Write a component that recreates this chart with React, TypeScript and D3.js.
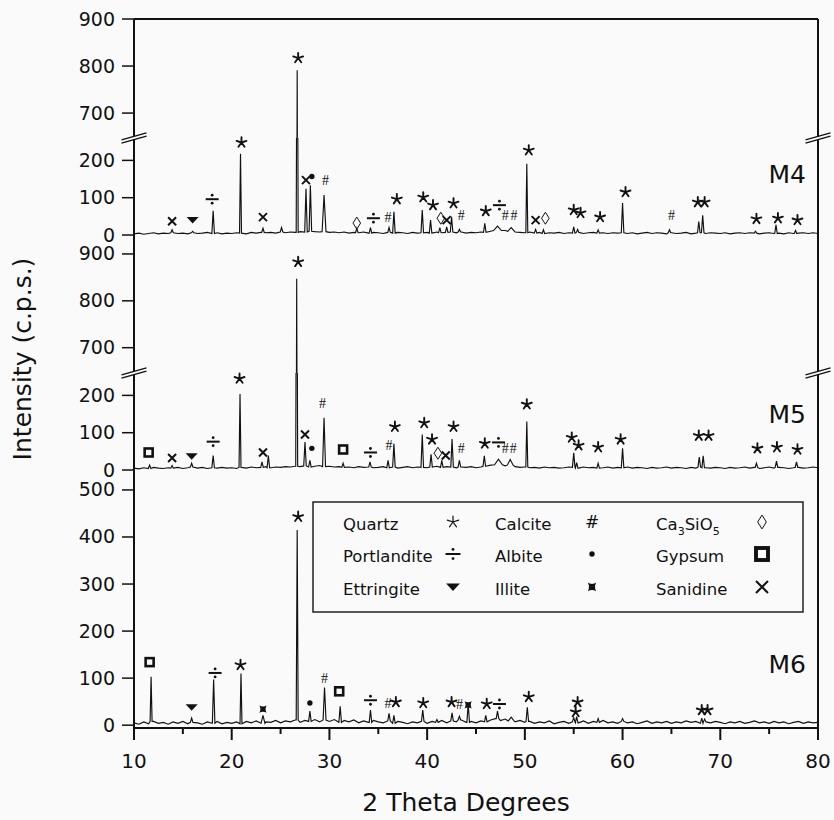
import * as d3 from 'd3';

const W = 834;
const H = 820;

// background samples every 0.5 deg from 10 to 80
const gridTheta = d3.range(0, 141).map(i => 10 + i * 0.5);

const baseM4 = [
  3, 5, 2, 4, 6, 3, 5, 4, 6, 4,
  5, 3, 6, 4, 5, 7, 4, 6, 3, 5,
  4, 6, 5, 3, 7, 5, 7, 6, 7, 5,
  8, 6, 8, 7, 9, 8, 10, 9, 8, 9,
  7, 8, 6, 8, 5, 7, 6, 8, 5, 7,
  6, 4, 7, 5, 7, 6, 4, 7, 5, 6,
  7, 5, 8, 6, 7, 8, 6, 8, 5, 7,
  6, 8, 7, 10, 12, 9, 12, 10, 8, 7,
  6, 8, 5, 7, 4, 6, 5, 7, 4, 6,
  5, 7, 4, 6, 7, 5, 6, 4, 6, 5,
  6, 4, 6, 3, 5, 7, 4, 6, 5, 3,
  6, 4, 5, 7, 3, 5, 6, 4, 6, 5,
  4, 6, 3, 5, 6, 4, 6, 5, 3, 5,
  6, 4, 5, 3, 6, 4, 5, 6, 4, 6,
  4,
];

const baseM5 = [
  5, 3, 6, 4, 7, 5, 4, 6, 5, 7,
  4, 6, 8, 5, 7, 4, 6, 5, 7, 5,
  6, 4, 7, 5, 8, 6, 7, 9, 6, 8,
  7, 9, 8, 10, 9, 11, 8, 10, 12, 9,
  10, 8, 9, 7, 8, 6, 9, 7, 8, 6,
  7, 9, 6, 8, 5, 7, 9, 6, 8, 7,
  6, 8, 10, 7, 9, 8, 6, 8, 7, 9,
  6, 8, 10, 13, 12, 14, 11, 13, 9, 7,
  8, 6, 7, 5, 8, 6, 7, 5, 6, 8,
  7, 5, 8, 6, 7, 5, 6, 8, 5, 7,
  6, 8, 5, 7, 6, 4, 7, 5, 6, 8,
  5, 7, 6, 4, 7, 5, 8, 6, 5, 7,
  6, 4, 7, 5, 6, 8, 5, 7, 4, 6,
  8, 5, 7, 6, 4, 6, 7, 5, 6, 8,
  6,
];

const baseM6 = [
  5, 2, 7, 3, 8, 4, 6, 2, 7, 4,
  8, 3, 6, 5, 2, 7, 4, 8, 3, 6,
  4, 7, 3, 8, 5, 9, 4, 7, 6, 10,
  5, 9, 7, 11, 6, 10, 8, 12, 7, 11,
  8, 12, 6, 10, 7, 11, 5, 9, 6, 10,
  7, 5, 9, 4, 8, 6, 3, 7, 5, 8,
  4, 8, 6, 10, 5, 9, 7, 11, 6, 8,
  5, 9, 7, 11, 14, 10, 13, 9, 7, 10,
  6, 8, 4, 7, 5, 9, 3, 6, 8, 4,
  7, 5, 9, 4, 8, 6, 10, 5, 7, 4,
  8, 5, 7, 3, 6, 9, 4, 7, 5, 8,
  4, 7, 5, 9, 6, 8, 4, 7, 5, 8,
  6, 3, 7, 5, 8, 4, 6, 9, 5, 7,
  4, 8, 5, 7, 3, 6, 8, 4, 7, 5,
  6,
];

// peaks: [2theta, intensity, half width]
const peaksM4: number[][] = [
  [13.9, 14], [16.0, 10], [18.1, 65], [20.9, 218, 0.1], [23.2, 18], [25.1, 20],
  [26.7, 791, 0.1], [27.6, 124], [28.05, 133], [29.45, 107, 0.2], [32.8, 18],
  [34.2, 20], [36.1, 20], [36.6, 62], [39.5, 67], [40.35, 40], [41.3, 20],
  [42.0, 22], [42.5, 49], [43.3, 15], [45.9, 31], [47.2, 24, 0.4], [48.6, 20, 0.35],
  [50.2, 191, 0.1], [51.1, 15], [51.9, 14], [55.0, 22], [55.4, 15], [57.5, 14],
  [60.0, 86], [64.8, 14], [67.8, 36], [68.2, 53], [73.6, 10], [75.7, 27], [77.7, 12],
];

const peaksM5: number[][] = [
  [11.6, 13], [13.9, 12], [15.9, 18], [18.1, 39], [20.85, 204, 0.1], [23.1, 22],
  [23.75, 39], [26.65, 847, 0.1], [27.5, 75], [28.0, 26], [29.45, 140, 0.15],
  [31.4, 18], [34.15, 22], [36.0, 26], [36.6, 70], [39.5, 95], [40.4, 42],
  [41.5, 26], [42.55, 83], [43.3, 26], [45.85, 38], [47.3, 29, 0.4], [48.5, 28, 0.3],
  [50.2, 130, 0.1], [55.0, 46], [55.3, 20], [57.5, 18], [60.0, 58], [67.85, 35],
  [68.25, 38], [73.7, 18], [75.75, 24], [77.8, 22],
];

const peaksM6: number[][] = [
  [11.75, 103, 0.1], [15.9, 15], [18.15, 97], [20.95, 110, 0.1], [23.2, 21, 0.2],
  [26.7, 415, 0.1], [28.0, 30], [29.5, 80, 0.15], [31.1, 40], [34.2, 32], [36.1, 25],
  [36.6, 21], [39.55, 32], [41.0, 12], [42.55, 26], [43.3, 19], [44.2, 46],
  [46.0, 21], [47.2, 30], [48.6, 17, 0.3], [50.25, 38], [55.0, 16], [55.3, 18],
  [57.5, 14], [60.0, 14], [68.1, 15], [68.4, 13],
];

// phase marks: [phase, 2theta, intensity]
const marksM4: [string, number, number][] = [
  ['S', 13.9, 37], ['E', 16.0, 40], ['P', 18.0, 96], ['Q', 21.0, 248], ['S', 23.2, 48],
  ['Q', 26.8, 817], ['S', 27.6, 147], ['A', 28.2, 157], ['C', 29.6, 147], ['D', 32.8, 32],
  ['P', 34.5, 45], ['C', 36.0, 48], ['Q', 36.9, 96], ['Q', 39.6, 101], ['Q', 40.6, 80],
  ['D', 41.4, 45], ['S', 42.0, 40], ['Q', 42.7, 85], ['C', 43.5, 53], ['Q', 46.0, 64],
  ['P', 47.4, 80], ['C', 48.0, 51], ['C', 48.9, 51], ['Q', 50.4, 227], ['S', 51.1, 40],
  ['D', 52.1, 45], ['Q', 55.0, 67], ['Q', 55.7, 59], ['Q', 57.7, 48], ['Q', 60.3, 115],
  ['C', 65.0, 51], ['Q', 67.7, 88], ['Q', 68.4, 88], ['Q', 73.7, 43], ['Q', 75.9, 45],
  ['Q', 77.9, 40],
];

const marksM5: [string, number, number][] = [
  ['G', 11.5, 47], ['S', 13.9, 32], ['E', 15.9, 37], ['P', 18.1, 76], ['Q', 20.8, 245],
  ['S', 23.2, 47], ['Q', 26.8, 883], ['S', 27.5, 95], ['A', 28.2, 58], ['C', 29.3, 179],
  ['G', 31.4, 55], ['P', 34.2, 47], ['C', 36.1, 66], ['Q', 36.7, 116], ['Q', 39.7, 126],
  ['Q', 40.5, 82], ['D', 41.1, 45], ['S', 41.9, 39], ['Q', 42.7, 116], ['C', 43.5, 58],
  ['Q', 45.9, 71], ['P', 47.3, 74], ['C', 48.0, 58], ['C', 48.8, 58], ['Q', 50.2, 176],
  ['Q', 54.8, 87], ['Q', 55.5, 66], ['Q', 57.5, 61], ['Q', 59.8, 82], ['Q', 67.8, 92],
  ['Q', 68.8, 92], ['Q', 73.8, 58], ['Q', 75.8, 61], ['Q', 77.9, 55],
];

const marksM6: [string, number, number][] = [
  ['G', 11.6, 134], ['E', 15.9, 38], ['P', 18.3, 111], ['Q', 20.9, 128], ['I', 23.2, 34],
  ['Q', 26.8, 443], ['A', 28.0, 47], ['C', 29.5, 100], ['G', 31.0, 72], ['P', 34.2, 53],
  ['C', 36.0, 47], ['Q', 36.8, 49], ['Q', 39.6, 47], ['Q', 42.5, 49], ['C', 43.3, 43],
  ['I', 44.2, 43], ['Q', 46.1, 45], ['P', 47.4, 45], ['Q', 50.4, 60], ['Q', 55.4, 49],
  ['Q', 55.2, 28], ['Q', 68.1, 32], ['Q', 68.7, 32],
];

const xTicks = [10, 20, 30, 40, 50, 60, 70, 80];
const xMinorTicks = [15, 25, 35, 45, 55, 65, 75];
const yTicksLow = [0, 100, 200];
const yTicksHigh = [700, 800, 900];
const yTicksM6 = [0, 100, 200, 300, 400, 500];

const legendRows: [string, string][][] = [
  [['Quartz', 'Q'], ['Calcite', 'C'], ['Ca3SiO5', 'D']],
  [['Portlandite', 'P'], ['Albite', 'A'], ['Gypsum', 'G']],
  [['Ettringite', 'E'], ['Illite', 'I'], ['Sanidine', 'S']],
];

const FONT = "'DejaVu Sans', Verdana, sans-serif";
const INK = '#111';
const BG = '#fafafa';

const L = 134, R = 818, TOP = 19, BOTTOM = 728;
const x = d3.scaleLinear().domain([10, 80]).range([L, R]);

type Seg = { dom: [number, number]; rng: [number, number]; ticks: number[] };
type Panel = { name: string; base: number[]; peaks: number[][]; marks: [string, number, number][]; segs: Seg[]; labelY: number };

const panels: Panel[] = [
  {
    name: 'M4', base: baseM4, peaks: peaksM4, marks: marksM4, labelY: 183,
    segs: [
      { dom: [-8, 260], rng: [238, 138], ticks: yTicksLow },
      { dom: [647, 900], rng: [138, TOP], ticks: yTicksHigh },
    ],
  },
  {
    name: 'M5', base: baseM5, peaks: peaksM5, marks: marksM5, labelY: 423,
    segs: [
      { dom: [-8, 260], rng: [473, 373], ticks: yTicksLow },
      { dom: [646, 934], rng: [373, 238], ticks: yTicksHigh },
    ],
  },
  {
    name: 'M6', base: baseM6, peaks: peaksM6, marks: marksM6, labelY: 673,
    segs: [{ dom: [-6, 536], rng: [BOTTOM, 473], ticks: yTicksM6 }],
  },
];

const breaks = [138, 373];

function tracePoints(base: number[], peaks: number[][]) {
  const pts: [number, number][] = [];
  const wins = peaks.map(([t, , w = 0.13]) => [t - w, t + w]);
  gridTheta.forEach((t, i) => {
    if (!wins.some(([a, b]) => t > a && t < b)) pts.push([t, base[i]]);
  });
  peaks.forEach(([t, h, w = 0.13]) => {
    const b = base[Math.round((t - 10) / 0.5)];
    pts.push([t - w, b], [t, h], [t + w, b]);
  });
  return pts.sort((a, b) => a[0] - b[0]);
}

function Marker({ type, cx, cy, s = 1, legend = false }: { type: string; cx: number; cy: number; s?: number; legend?: boolean }) {
  switch (type) {
    case 'Q': {
      const r = 5.2 * s;
      const d = [0, 72, 144, 216, 288]
        .map(a => {
          const rad = (a * Math.PI) / 180;
          return `M${cx},${cy}L${cx + r * Math.sin(rad)},${cy - r * Math.cos(rad)}`;
        })
        .join('');
      return <path d={d} stroke={INK} strokeWidth={legend ? 1.2 : 1.9} strokeLinecap="round" fill="none" />;
    }
    case 'C':
      return legend ? (
        <text x={cx} y={cy + 6} fontSize={17} fontFamily={FONT} textAnchor="middle" fill={INK}>#</text>
      ) : (
        <text x={cx} y={cy + 4.5} fontSize={14} fontFamily="'Liberation Serif', serif" textAnchor="middle" fill={INK}>#</text>
      );
    case 'D':
      return (
        <path
          d={`M${cx},${cy - 6 * s}L${cx + 3.8 * s},${cy}L${cx},${cy + 6 * s}L${cx - 3.8 * s},${cy}Z`}
          fill="none" stroke={INK} strokeWidth={1}
        />
      );
    case 'P':
      return (
        <g fill={INK}>
          <line x1={cx - 6.5 * s} x2={cx + 6.5 * s} y1={cy} y2={cy} stroke={INK} strokeWidth={2} />
          <circle cx={cx} cy={cy - 4 * s} r={1.4} />
          <circle cx={cx} cy={cy + 4 * s} r={1.4} />
        </g>
      );
    case 'A':
      return <circle cx={cx} cy={cy} r={2.7} fill={INK} />;
    case 'G': {
      const h = 4 * s;
      return <rect x={cx - h} y={cy - h} width={2 * h} height={2 * h} fill="none" stroke={INK} strokeWidth={2.6 * s} />;
    }
    case 'E':
      return <path d={`M${cx - 6 * s},${cy - 3 * s}L${cx + 6 * s},${cy - 3 * s}L${cx},${cy + 3.5 * s}Z`} fill={INK} />;
    case 'I': {
      const h = 3.6 * s;
      const c = 1.6 * s;
      return (
        <path
          d={`M${cx - h},${cy - h}Q${cx},${cy - c} ${cx + h},${cy - h}Q${cx + c},${cy} ${cx + h},${cy + h}Q${cx},${cy + c} ${cx - h},${cy + h}Q${cx - c},${cy} ${cx - h},${cy - h}Z`}
          fill={INK}
        />
      );
    }
    case 'S': {
      const h = 4 * s;
      return (
        <path d={`M${cx - h},${cy - h}L${cx + h},${cy + h}M${cx - h},${cy + h}L${cx + h},${cy - h}`} stroke={INK} strokeWidth={2} fill="none" />
      );
    }
    default:
      return null;
  }
}

function BreakMark({ cx, cy }: { cx: number; cy: number }) {
  const a = 12.5;
  const sl = 3.5;
  const g = 1.6;
  const p1 = [cx - a, cy + sl - g, cx + a, cy - sl - g];
  const p2 = [cx - a, cy + sl + g, cx + a, cy - sl + g];
  return (
    <g>
      <polygon points={`${p1[0]},${p1[1]} ${p1[2]},${p1[3]} ${p2[2]},${p2[3]} ${p2[0]},${p2[1]}`} fill={BG} />
      <line x1={p1[0]} y1={p1[1]} x2={p1[2]} y2={p1[3]} stroke={INK} strokeWidth={1.3} />
      <line x1={p2[0]} y1={p2[1]} x2={p2[2]} y2={p2[3]} stroke={INK} strokeWidth={1.3} />
    </g>
  );
}

export default function App() {
  const legendX = { text: [343, 495, 656], sym: [453, 592, 762] };
  const legendBase = [530, 562, 595];

  return (
    <svg width={W} height={H} style={{ position: 'absolute', left: 0, top: 0 }} fontFamily={FONT}>
      <rect width={W} height={H} fill={BG} />
      <defs>
        {panels.map((p, pi) =>
          p.segs.map((s, si) => (
            <clipPath id={`clip-${pi}-${si}`} key={`${pi}-${si}`}>
              <rect x={L} y={s.rng[1]} width={R - L} height={s.rng[0] - s.rng[1]} />
            </clipPath>
          ))
        )}
      </defs>

      {panels.map((p, pi) => {
        const pts = tracePoints(p.base, p.peaks);
        return (
          <g key={p.name}>
            {p.segs.map((s, si) => {
              const y = d3.scaleLinear().domain(s.dom).range(s.rng);
              const line = d3.line<[number, number]>().x(d => x(d[0])).y(d => y(d[1]));
              return (
                <g key={si}>
                  <path d={line(pts) || ''} fill="none" stroke={INK} strokeWidth={1.15} clipPath={`url(#clip-${pi}-${si})`} />
                  {s.ticks.map(t => (
                    <g key={t}>
                      <line x1={L - 12} x2={L} y1={y(t)} y2={y(t)} stroke={INK} strokeWidth={1.5} />
                      <text x={115} y={y(t) + 6.5} fontSize={19} textAnchor="end" fill={INK}>{t}</text>
                    </g>
                  ))}
                </g>
              );
            })}
            {p.marks.map(([type, t, v], i) => {
              const seg = p.segs.find(s => v >= s.dom[0] && v <= s.dom[1]) || p.segs[0];
              const y = d3.scaleLinear().domain(seg.dom).range(seg.rng);
              return <Marker key={i} type={type} cx={x(t)} cy={y(v)} />;
            })}
            <text x={806} y={p.labelY} fontSize={25} textAnchor="end" fill={INK}>{p.name}</text>
          </g>
        );
      })}

      {/* frame and axes */}
      <line x1={L} x2={R} y1={TOP} y2={TOP} stroke={INK} strokeWidth={2} />
      <line x1={R} x2={R} y1={TOP} y2={BOTTOM} stroke={INK} strokeWidth={2} />
      <line x1={L} x2={L} y1={TOP} y2={BOTTOM} stroke={INK} strokeWidth={2} />
      <line x1={L - 1} x2={R + 1} y1={BOTTOM} y2={BOTTOM} stroke={INK} strokeWidth={2} />
      {xTicks.map(t => (
        <g key={t}>
          <line x1={x(t)} x2={x(t)} y1={BOTTOM} y2={BOTTOM + 12} stroke={INK} strokeWidth={2} />
          <text x={x(t)} y={768} fontSize={20} textAnchor="middle" fill={INK}>{t}</text>
        </g>
      ))}
      {xMinorTicks.map(t => (
        <line key={t} x1={x(t)} x2={x(t)} y1={BOTTOM} y2={BOTTOM + 6} stroke={INK} strokeWidth={2} />
      ))}
      {breaks.map(b => (
        <g key={b}>
          <BreakMark cx={L} cy={b} />
          <BreakMark cx={R} cy={b} />
        </g>
      ))}

      {/* legend */}
      <rect x={313} y={502} width={490} height={110} fill={BG} stroke="#222" strokeWidth={1.5} />
      {legendRows.map((row, ri) =>
        row.map(([label, type], ci) => (
          <g key={`${ri}-${ci}`}>
            {label === 'Ca3SiO5' ? (
              <text x={legendX.text[ci]} y={legendBase[ri]} fontSize={16.5} fill={INK}>
                Ca<tspan fontSize={11} dy={5}>3</tspan>
                <tspan dy={-5}>SiO</tspan>
                <tspan fontSize={11} dy={5}>5</tspan>
              </text>
            ) : (
              <text x={legendX.text[ci]} y={legendBase[ri]} fontSize={16.5} fill={INK}>{label}</text>
            )}
            <Marker type={type} cx={legendX.sym[ci]} cy={legendBase[ri] - 8} s={type === 'S' || type === 'G' ? 1.5 : 1.15} legend />
          </g>
        ))
      )}

      {/* axis titles */}
      <text x={466} y={811} fontSize={25} textAnchor="middle" fill={INK}>2 Theta Degrees</text>
      <text transform="translate(31,359) rotate(-90)" fontSize={25} textAnchor="middle" fill={INK}>Intensity (c.p.s.)</text>
    </svg>
  );
}
